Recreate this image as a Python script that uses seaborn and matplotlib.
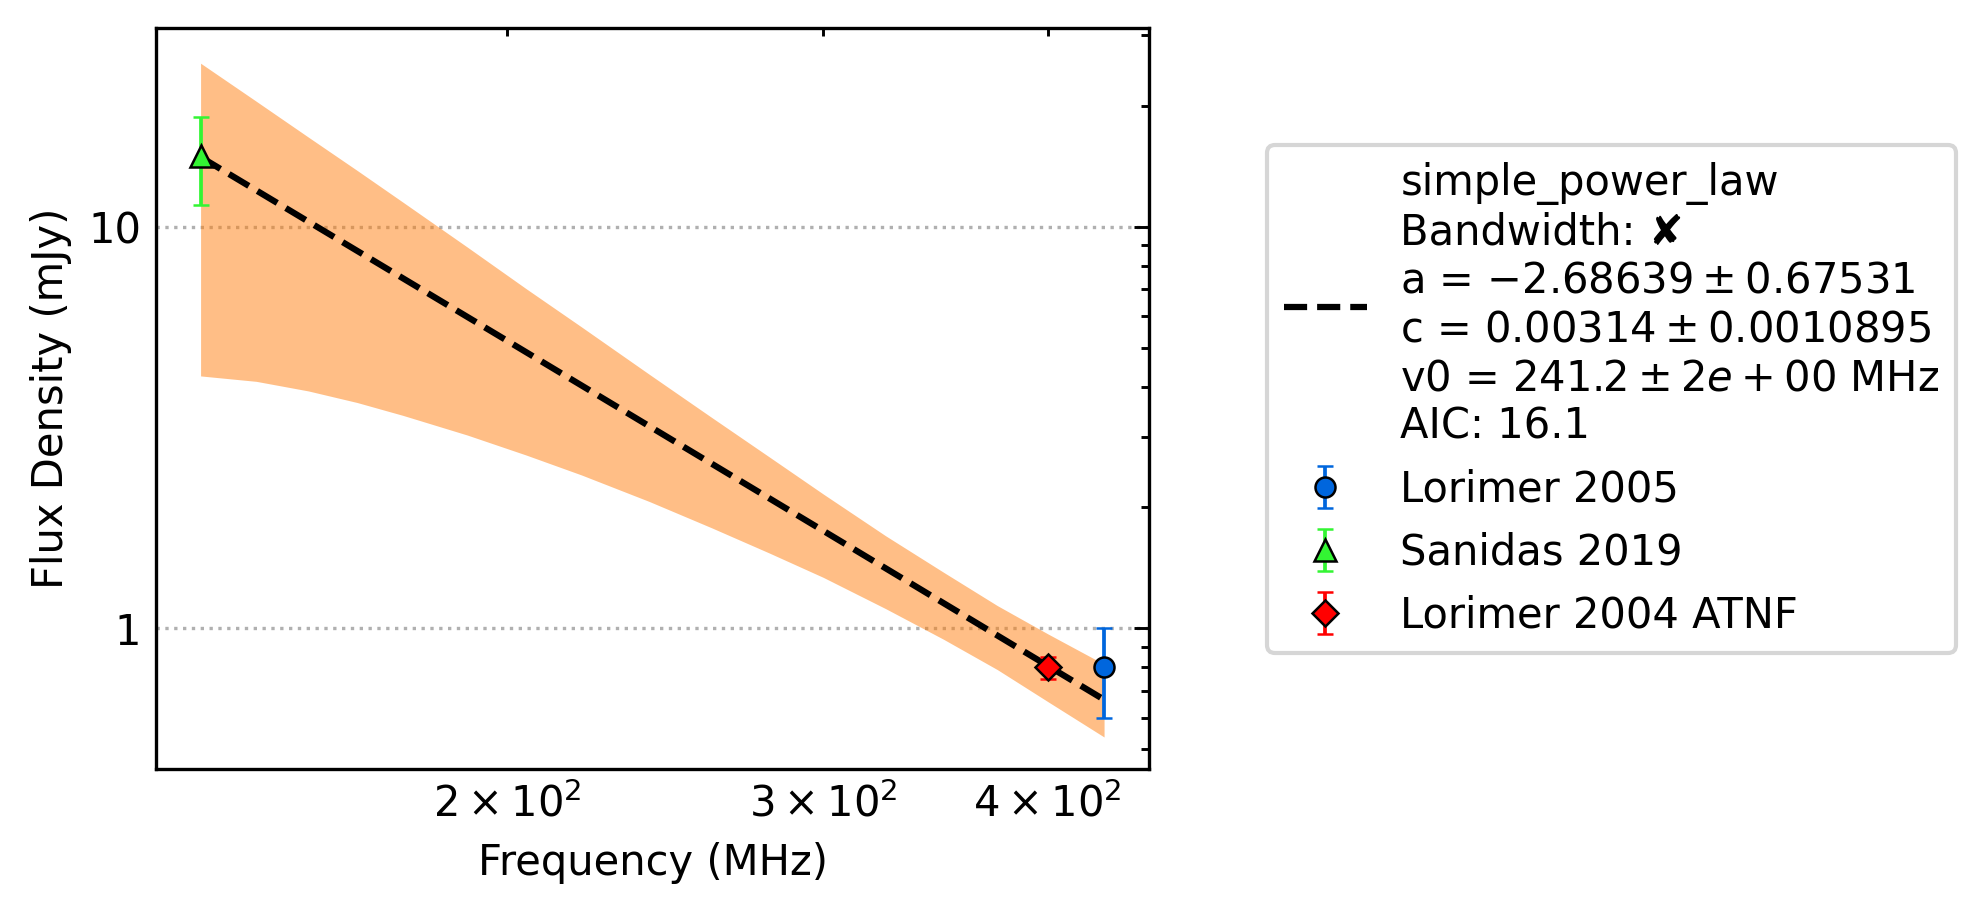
import seaborn as sns
import matplotlib
matplotlib.use("Agg")
import matplotlib.pyplot as plt
from matplotlib.ticker import FormatStrFormatter, NullFormatter

# Messdata (MHz, mJy)
lorimer05_freq = [430]
lorimer05_flux = [0.8]
lorimer05_err = [0.2]

sanidas_freq = [135]
sanidas_flux = [15.0]
sanidas_err = [3.7]

atnf_freq = [400]
atnf_flux = [0.8]
atnf_err = [0.05]

# Tilpasset modell
fit_freq = [135, 200, 300, 430]
fit_flux = [14.9, 5.2, 1.75, 0.665]

# Usikkerhetsbånd rundt modellen (avlest)
band_freq = [135, 145, 155, 165, 175, 190, 205, 220, 240, 260, 280, 300, 325, 350, 375, 400, 430]
band_upper = [25.5, 20.5, 16.7, 13.8, 11.5, 8.9, 7.0, 5.63, 4.29, 3.35, 2.67, 2.16,
              1.70, 1.38, 1.14, 0.97, 0.815]
band_lower = [4.25, 4.12, 3.9, 3.65, 3.39, 3.03, 2.70, 2.41, 2.07, 1.78, 1.54, 1.34,
              1.12, 0.94, 0.79, 0.658, 0.537]

fit_label = ("simple_power_law\n"
             "Bandwidth: \u2718\n"
             "a = $-2.68639 \\pm 0.67531$\n"
             "c = $0.00314 \\pm 0.0010895$\n"
             "v0 = $241.2 \\pm 2e+00$ MHz\n"
             "AIC: 16.1")

sns.set_style("white")
plt.rcParams['font.family'] = ['DejaVu Sans']
plt.rcParams['font.size'] = 10
for key in ['text.color', 'axes.labelcolor', 'xtick.color', 'ytick.color', 'axes.edgecolor']:
    plt.rcParams[key] = 'black'

fig = plt.figure(figsize=(1987 / 300, 914 / 300), dpi=300)
ax = fig.add_axes([156 / 1987, 145 / 914, 993 / 1987, 741 / 914])
ax.set_xscale('log')
ax.set_yscale('log')

# Bånd og modellinje
ax.fill_between(band_freq, band_lower, band_upper, color='#ff7f0e', alpha=0.5, linewidth=0)
sns.lineplot(x=fit_freq, y=fit_flux, ax=ax, color='k', linestyle='--', linewidth=1.5,
             label=fit_label, zorder=3)

# Målepunkter med feilstolper
common = dict(markeredgecolor='k', markeredgewidth=0.6, capsize=2.0, elinewidth=0.9,
              capthick=0.9, linestyle='none', zorder=4)
ax.errorbar(lorimer05_freq, lorimer05_flux, yerr=lorimer05_err, marker='o', ms=4.8,
            color='#0066dd', label='Lorimer 2005', **common)
ax.errorbar(sanidas_freq, sanidas_flux, yerr=sanidas_err, marker='^', ms=5.4,
            color='#33f533', label='Sanidas 2019', **common)
ax.errorbar(atnf_freq, atnf_flux, yerr=atnf_err, marker='D', ms=4.4,
            color='#ff0000', label='Lorimer 2004 ATNF', **common)

# Akser
ax.set_xlim(127.5, 455.5)
ax.set_ylim(0.447, 31.2)
ax.yaxis.set_major_formatter(FormatStrFormatter('%g'))
ax.yaxis.set_minor_formatter(NullFormatter())
ax.tick_params(which='both', direction='in', top=True, right=True, width=0.7, labelsize=10)
ax.tick_params(which='major', length=3.5)
ax.tick_params(which='minor', length=2)
for s in ax.spines.values():
    s.set_linewidth(0.8)
ax.grid(axis='y', which='major', linestyle=':', color='#b0b0b0', linewidth=0.8)
ax.set_xlabel("Frequency (MHz)", fontsize=10)
ax.set_ylabel("Flux Density (mJy)", fontsize=10)

handles, labels = ax.get_legend_handles_labels()
ax.legend(handles, labels, loc='center left', fontsize=10,
          bbox_to_anchor=(1267 / 1987, (914 - 399) / 914),
          bbox_transform=fig.transFigure, borderaxespad=0)

fig.savefig("out.png", dpi=300)
